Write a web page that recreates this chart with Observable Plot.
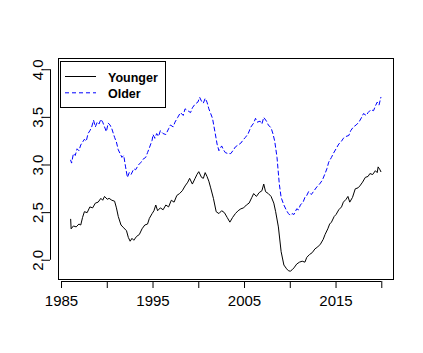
<!DOCTYPE html>
<html><head><meta charset="utf-8">
<script src="https://cdn.jsdelivr.net/npm/d3@7"></script>
<script src="https://cdn.jsdelivr.net/npm/@observablehq/plot@0.6"></script>
<style>body{margin:0;background:#fff}</style>
</head><body><div id="chart"></div>
<script>
const youngerYears = [1986.00,1986.05,1986.3,1986.6,1986.9,1987.1,1987.3,1987.5,1987.8,1988.1,1988.4,1988.7,1989.0,1989.3,1989.5,1989.7,1990.0,1990.2,1990.5,1990.8,1991.0,1991.2,1991.5,1991.8,1992.1,1992.3,1992.5,1992.7,1992.9,1993.2,1993.5,1993.8,1994.1,1994.4,1994.6,1994.9,1995.1,1995.3,1995.5,1995.8,1996.1,1996.4,1996.7,1997.0,1997.3,1997.6,1997.9,1998.2,1998.5,1998.8,1999.0,1999.3,1999.6,1999.8,2000.0,2000.3,2000.5,2000.7,2000.9,2001.1,2001.3,2001.6,2001.9,2002.2,2002.5,2002.8,2003.1,2003.4,2003.7,2004.0,2004.3,2004.6,2004.9,2005.2,2005.5,2005.8,2006.0,2006.3,2006.6,2006.9,2007.1,2007.3,2007.6,2007.9,2008.2,2008.4,2008.7,2009.0,2009.3,2009.6,2009.8,2010.0,2010.2,2010.4,2010.7,2011.0,2011.3,2011.6,2011.8,2012.1,2012.4,2012.7,2013.0,2013.3,2013.6,2013.8,2014.1,2014.3,2014.5,2014.8,2015.0,2015.3,2015.6,2015.8,2016.1,2016.3,2016.5,2016.8,2017.1,2017.4,2017.6,2017.9,2018.2,2018.5,2018.7,2019.0,2019.3,2019.5,2019.6,2019.8,2019.9];
const youngerValues = [2.43,2.33,2.36,2.35,2.38,2.37,2.45,2.51,2.50,2.56,2.55,2.60,2.61,2.65,2.63,2.67,2.64,2.65,2.63,2.62,2.55,2.46,2.37,2.34,2.31,2.24,2.20,2.23,2.21,2.25,2.27,2.33,2.37,2.38,2.44,2.49,2.52,2.58,2.52,2.55,2.53,2.58,2.56,2.63,2.61,2.68,2.70,2.73,2.78,2.82,2.86,2.80,2.86,2.90,2.93,2.87,2.86,2.92,2.88,2.83,2.76,2.65,2.51,2.49,2.52,2.50,2.45,2.40,2.45,2.49,2.52,2.54,2.55,2.58,2.60,2.66,2.70,2.67,2.71,2.73,2.80,2.72,2.70,2.67,2.60,2.51,2.35,2.09,1.95,1.91,1.89,1.885,1.90,1.92,1.96,1.98,1.99,1.98,2.03,2.06,2.08,2.12,2.14,2.17,2.22,2.27,2.33,2.38,2.40,2.46,2.48,2.53,2.56,2.61,2.64,2.67,2.61,2.66,2.75,2.76,2.78,2.82,2.87,2.88,2.91,2.90,2.94,2.92,2.98,2.95,2.93];

const olderYears = [1986.0,1986.1,1986.3,1986.5,1986.7,1986.9,1987.1,1987.3,1987.5,1987.7,1987.9,1988.1,1988.3,1988.5,1988.7,1988.9,1989.1,1989.3,1989.5,1989.7,1989.9,1990.1,1990.3,1990.5,1990.8,1991.0,1991.2,1991.4,1991.6,1991.8,1992.0,1992.2,1992.4,1992.6,1992.9,1993.1,1993.4,1993.7,1993.9,1994.2,1994.4,1994.6,1994.9,1995.0,1995.2,1995.4,1995.6,1995.8,1996.1,1996.4,1996.7,1996.9,1997.2,1997.4,1997.7,1998.0,1998.3,1998.5,1998.8,1999.1,1999.3,1999.6,1999.9,2000.1,2000.3,2000.5,2000.7,2000.9,2001.1,2001.3,2001.5,2001.8,2002.0,2002.2,2002.5,2002.7,2002.9,2003.2,2003.5,2003.8,2004.0,2004.3,2004.6,2004.9,2005.1,2005.4,2005.7,2006.0,2006.2,2006.4,2006.7,2006.9,2007.1,2007.4,2007.6,2007.9,2008.1,2008.3,2008.55,2008.8,2009.0,2009.3,2009.6,2009.8,2010.0,2010.2,2010.4,2010.7,2010.9,2011.1,2011.4,2011.6,2011.8,2012.0,2012.3,2012.6,2012.9,2013.2,2013.5,2013.8,2014.0,2014.2,2014.5,2014.7,2015.0,2015.3,2015.6,2015.8,2016.1,2016.4,2016.6,2016.9,2017.2,2017.5,2017.8,2018.0,2018.3,2018.5,2018.8,2019.1,2019.3,2019.5,2019.7,2019.9];
const olderValues = [3.05,3.02,3.12,3.10,3.17,3.15,3.21,3.24,3.27,3.25,3.33,3.36,3.40,3.47,3.40,3.45,3.43,3.48,3.45,3.40,3.35,3.44,3.42,3.38,3.29,3.24,3.16,3.12,3.08,3.10,2.98,2.87,2.92,2.90,2.96,2.95,3.00,3.03,3.06,3.08,3.13,3.18,3.26,3.32,3.28,3.33,3.30,3.36,3.33,3.32,3.38,3.42,3.40,3.45,3.50,3.55,3.52,3.59,3.57,3.55,3.60,3.64,3.66,3.71,3.67,3.65,3.70,3.66,3.59,3.54,3.49,3.33,3.22,3.15,3.20,3.16,3.13,3.12,3.12,3.16,3.19,3.21,3.23,3.27,3.29,3.33,3.40,3.44,3.49,3.45,3.46,3.43,3.50,3.46,3.42,3.39,3.33,3.25,3.08,2.80,2.66,2.58,2.52,2.49,2.47,2.49,2.48,2.54,2.53,2.58,2.61,2.66,2.68,2.72,2.69,2.73,2.77,2.80,2.84,2.91,2.96,3.03,3.08,3.12,3.17,3.22,3.25,3.28,3.30,3.31,3.36,3.40,3.42,3.45,3.50,3.54,3.52,3.55,3.58,3.57,3.62,3.66,3.63,3.71];

const xTicks = [1985,1990,1995,2000,2005,2010,2015,2020];
const xTickLabels = [1985,1995,2005,2015];
const yTicks = [2.0,2.5,3.0,3.5,4.0];
const seriesNames = ["Younger","Older"];

const younger = youngerYears.map((t,i)=>({t, v: youngerValues[i]}));
const older = olderYears.map((t,i)=>({t, v: olderValues[i]}));

const W = 423, H = 353, mL = 58, mR = 30, mT = 58, mB = 74;
const xDom = [1984.67, 2021.28], yDom = [1.798, 4.118];
const innerH = H - mT - mB, innerW = W - mL - mR;

const plot = Plot.plot({
  width: W, height: H,
  marginLeft: mL, marginRight: mR, marginTop: mT, marginBottom: mB,
  x: {domain: xDom, axis: null}, y: {domain: yDom, axis: null},
  style: {fontFamily: "'Liberation Sans', Arial, Helvetica, sans-serif", fontSize: "15px", background: "#fff", color: "#000"},
  marks: [
    Plot.line(older, {x: "t", y: "v", stroke: "#0000ff", strokeWidth: 1, strokeDasharray: "4,3"}),
    Plot.line(younger, {x: "t", y: "v", stroke: "#000", strokeWidth: 1}),
    Plot.frame({stroke: "#000"}),
    // x axis
    Plot.ruleY([yDom[0]], {x1: xTicks[0], x2: xTicks[xTicks.length-1], y: d => d, dy: 2, stroke: "#000"}),
    Plot.tickX(xTicks, {x: d => d, insetTop: innerH + 2, insetBottom: -9, stroke: "#000"}),
    Plot.text(xTickLabels, {x: d => d, frameAnchor: "bottom", text: d => String(d), dy: 16, lineAnchor: "top", fontSize: 15, fill: "#000"}),
    // y axis
    Plot.ruleX([xDom[0]], {x: d => d, y1: yTicks[0], y2: yTicks[yTicks.length-1], dx: -8, stroke: "#000"}),
    Plot.tickY(yTicks, {y: d => d, insetLeft: -15, insetRight: innerW + 8, stroke: "#000"}),
    Plot.text(yTicks, {y: d => d, frameAnchor: "left", text: d => d.toFixed(1), rotate: -90, dx: -16, textAnchor: "middle", lineAnchor: "bottom", fontSize: 15, fill: "#000"})
  ]
});
document.getElementById("chart").appendChild(plot);

// legend
const svg = d3.select(plot);
const lg = svg.append("g");
lg.append("rect").attr("x", 60.5).attr("y", 61.5).attr("width", 105).attr("height", 46)
  .attr("fill", "#fff").attr("stroke", "#000");
const styles = [{stroke: "#000", dash: null}, {stroke: "#0000ff", dash: "4,3"}];
seriesNames.forEach((name, i) => {
  const y = 76.5 + i * 16.3;
  lg.append("line").attr("x1", 65).attr("x2", 96).attr("y1", y).attr("y2", y)
    .attr("stroke", styles[i].stroke).attr("stroke-dasharray", styles[i].dash);
  lg.append("text").attr("x", 108).attr("y", y + 5).text(name)
    .attr("text-anchor", "start")
    .attr("font-weight", "bold").attr("font-size", 12.5).attr("fill", "#000")
    .attr("font-family", "'Liberation Sans', Arial, sans-serif");
});
</script>
</body></html>
